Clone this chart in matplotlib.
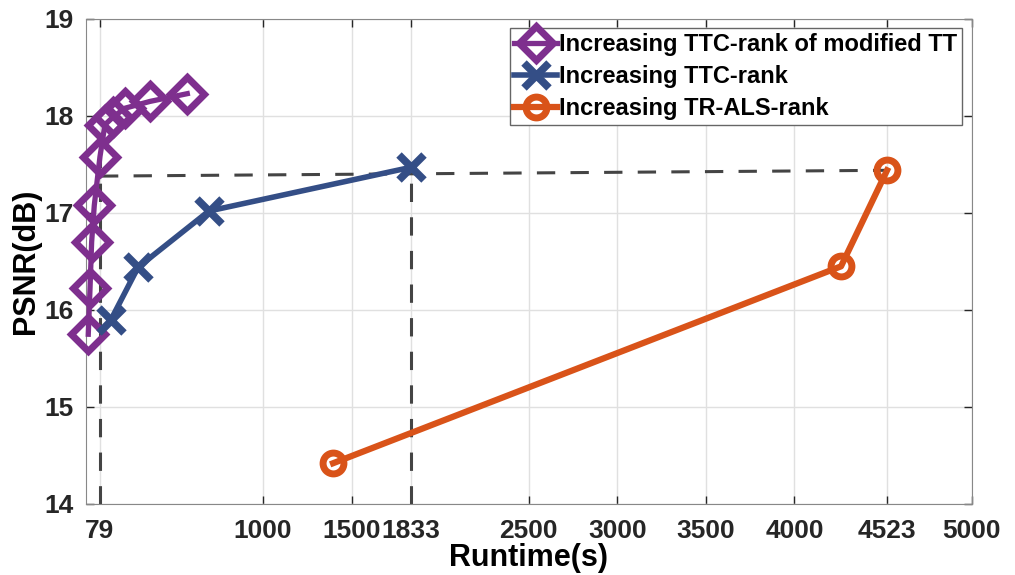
import matplotlib.pyplot as plt
import numpy as np

plt.rcParams['font.family'] = ['Liberation Sans', 'DejaVu Sans']
plt.rcParams['font.weight'] = 'bold'

# runtime (s) / PSNR (dB)
mod_tt_time = np.array([13, 23, 32, 47, 79, 107, 154, 220, 361, 572])
mod_tt_psnr = np.array([15.75, 16.23, 16.70, 17.08, 17.58, 17.91, 17.99, 18.08, 18.15, 18.23])

ttc_time = np.array([141, 294, 694, 1833])
ttc_psnr = np.array([15.90, 16.44, 17.02, 17.47])

tr_als_time = np.array([1395, 4263, 4523])
tr_als_psnr = np.array([14.42, 16.45, 17.44])

# dashed guide from the 79 s point across to the last TR-ALS point
guide_time = np.array([79, 4523])
guide_psnr = np.array([17.38, 17.44])

xticks = [79, 1000, 1500, 1833, 2500, 3000, 3500, 4000, 4523, 5000]
yticks = [14, 15, 16, 17, 18, 19]

purple = '#7E2F8E'
blue = '#344E86'
orange = '#D95319'
dash_c = '#444444'

fig = plt.figure(figsize=(10.15, 5.75), dpi=100)
ax = fig.add_axes([0.0847, 0.1235, 0.8725, 0.8435])

# dashed reference lines
ax.plot([guide_time[0], guide_time[0]], [14, mod_tt_psnr[4]], color=dash_c, lw=2.2, dashes=(6, 5), zorder=2)
ax.plot([ttc_time[-1], ttc_time[-1]], [14, ttc_psnr[-1]], color=dash_c, lw=2.2, dashes=(6, 5), zorder=2)
ax.plot(guide_time, guide_psnr, color=dash_c, lw=2.2, dashes=(6, 5), zorder=2)

ax.plot(mod_tt_time, mod_tt_psnr, color=purple, lw=3.8, marker='D', ms=17, mfc='none',
        mew=5, label='Increasing TTC-rank of modified TT', zorder=3, clip_on=False)
ax.plot(ttc_time, ttc_psnr, color=blue, lw=4, marker='x', ms=18, mew=5.5,
        label='Increasing TTC-rank', zorder=3, clip_on=False)
ax.plot(tr_als_time, tr_als_psnr, color=orange, lw=4.5, marker='o', ms=15, mfc='none',
        mew=5, label='Increasing TR-ALS-rank', zorder=3, clip_on=False)

ax.set_xlim(0, 5000)
ax.set_ylim(14, 19)
ax.set_xticks(xticks)
ax.set_yticks(yticks)
ax.tick_params(direction='in', length=6, width=1, top=True, right=True,
               labelsize=19, colors='#262626', pad=9)
ax.tick_params(axis='x', pad=11)
for t in ax.get_xticklabels() + ax.get_yticklabels():
    t.set_fontweight('bold')
for s in ax.spines.values():
    s.set_color('#888888')
ax.grid(True, color='#E0E0E0', lw=1)
ax.set_axisbelow(True)

ax.set_xlabel('Runtime(s)', fontsize=22, fontweight='bold', labelpad=0)
ax.set_ylabel('PSNR(dB)', fontsize=22, fontweight='bold', labelpad=2)

leg = ax.legend(loc='upper right', fontsize=17, handlelength=1.8, handletextpad=0.1,
                borderaxespad=0.4, borderpad=0.2, labelspacing=0.38, fancybox=False,
                framealpha=1, edgecolor='#666666')
leg.set_zorder(5)
for t in leg.get_texts():
    t.set_fontweight('bold')

fig.savefig('out.png', dpi=100)
